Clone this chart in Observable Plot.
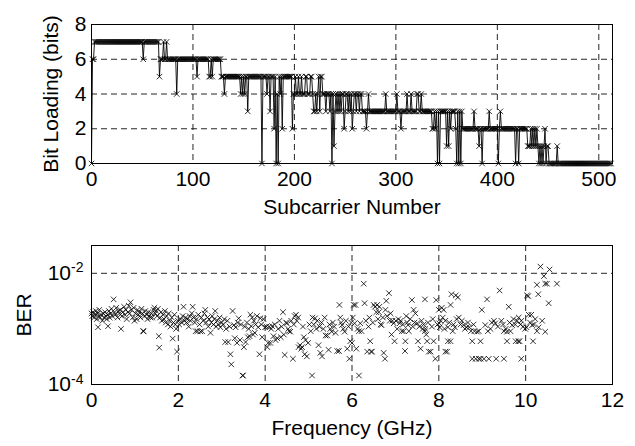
<!DOCTYPE html>
<html><head><meta charset="utf-8">
<script src="https://cdn.jsdelivr.net/npm/d3@7"></script>
<script src="https://cdn.jsdelivr.net/npm/@observablehq/plot@0.6"></script>
<style>
html,body{margin:0;padding:0;background:#fff;}
#chart{width:635px;height:446px;position:relative;background:#fff;}
#chart svg{display:block;}
</style></head><body><div id="chart"></div>
<script>
// ---------- DATA ----------
// Bit loading per subcarrier (index = subcarrier number 0..512), one digit per subcarrier
const bitLoadingRuns = [
  "066" + "77777777" + "77777777" + "77777777" + "77777777" + "77777777" + "77777777",      // 0-50
  "6" + "777777777777777" + "5" + "666" + "7" + "66" + "7",                               // 51-74
  "666666666" + "4" + "6666666666666666666" + "5" + "66666666666" + "5565" + "66666666",   // 75-127
  "555" + "4" + "555555555555555" + "45454553" + "5555555555555" + "0" + "5555" + "4" + "55" + "3" + "555" +
    "2" + "5" + "0" + "4" + "0" + "5" + "4" + "5" + "2" + "555555555" + "2",                  // 128-198
  "44" + "5" + "44" + "5" + "44" + "5" + "444" + "55" + "444" + "55" + "4" + "33" + "4" + "3" + "4" + "5" + "3" +
    "55" + "444" + "3" + "444" + "3" + "4" + "0" + "4" + "1",                                // 199-239
  "343434344" + "2" + "3443434" + "2" + "3443443443" + "333" + "2" + "3",                  // 240-272
  "4" + "3333333333333333" + "4" + "3333333333" + "4" + "333" + "2" + "33333" + "4" + "333" + "4" + "33333" +
    "44" + "33" + "4" + "3333333333",                                                      // 273-335
  "22323030" + "333333" + "131323333" + "2030303",                                          // 336-365
  "22222222222" + "3" + "2222" + "1" + "22" + "0" + "222222" + "3" + "22222222" + "0" + "2" + "3" +
    "22222222222222" + "0" + "22" + "0" + "22222222",                                       // 366-429
  "111212121210101012011" + "00000000" + "1",                                              // 430-459
  "0000000000" + "0000000000" + "0000000000" + "0000000000" + "0000000000" + "000"          // 460-512
];
const subcarrierTicks = [0, 100, 200, 300, 400, 500];
const bitTicks = [0, 2, 4, 6, 8];

// BER vs frequency [GHz, BER]
const berPoints = [
  [0.00,1.9e-3],[0.02,1.7e-3],[0.04,2.0e-3],[0.06,1.6e-3],[0.08,1.8e-3],[0.10,2.1e-3],[0.12,1.5e-3],[0.14,1.9e-3],
  [0.15,1.07e-3],[0.16,1.7e-3],[0.18,2.2e-3],[0.20,1.6e-3],[0.22,1.8e-3],[0.25,1.4e-3],[0.27,1.9e-3],[0.29,1.6e-3],
  [0.31,2.0e-3],[0.33,1.7e-3],[0.35,1.5e-3],[0.38,1.12e-3],[0.38,1.8e-3],[0.40,2.1e-3],[0.42,1.6e-3],[0.44,1.9e-3],
  [0.46,2.3e-3],[0.48,1.7e-3],[0.51,3.4e-3],[0.53,2.0e-3],[0.55,1.8e-3],[0.57,2.4e-3],[0.60,1.6e-3],[0.62,2.1e-3],
  [0.64,1.9e-3],[0.66,2.2e-3],[0.68,1.0e-3],[0.70,1.7e-3],[0.72,2.0e-3],[0.75,2.5e-3],[0.77,1.8e-3],[0.79,2.2e-3],
  [0.81,1.5e-3],[0.84,2.0e-3],[0.86,2.6e-3],[0.88,1.9e-3],[0.90,3.0e-3],[0.92,2.2e-3],[0.95,1.6e-3],[0.97,2.4e-3],
  [0.99,1.4e-3],[1.01,1.9e-3],[1.04,1.5e-3],[1.06,2.2e-3],[1.08,1.8e-3],[1.10,2.0e-3],[1.13,1.6e-3],[1.15,2.3e-3],
  [1.17,1.9e-3],[1.19,9.2e-4],[1.20,9.0e-4],[1.22,1.7e-3],[1.24,2.1e-3],[1.27,1.8e-3],[1.29,1.5e-3],[1.31,2.0e-3],
  [1.33,1.7e-3],[1.36,1.6e-3],[1.38,1.9e-3],[1.40,1.6e-3],[1.43,2.2e-3],[1.45,2.4e-3],[1.47,1.9e-3],[1.49,2.1e-3],
  [1.51,1.7e-3],[1.53,2.3e-3],[1.55,7.4e-4],[1.56,4.6e-4],[1.58,1.6e-3],[1.60,2.0e-3],[1.62,1.4e-3],[1.65,1.8e-3],
  [1.67,1.5e-3],[1.69,2.1e-3],[1.71,1.3e-3],[1.73,1.7e-3],[1.76,1.2e-3],[1.78,1.9e-3],[1.80,1.4e-3],[1.82,1.1e-3],
  [1.85,1.6e-3],[1.87,6.7e-4],[1.89,1.3e-3],[1.91,1.8e-3],[1.93,1.2e-3],[1.95,1.0e-3],[1.97,3.9e-4],[1.99,1.4e-3],
  [2.02,1.2e-3],[2.05,1.5e-3],[2.08,1.3e-3],[2.10,1.7e-3],[2.12,2.5e-3],[2.14,1.4e-3],[2.17,1.6e-3],[2.19,1.3e-3],
  [2.21,1.5e-3],[2.24,1.1e-3],[2.26,1.7e-3],[2.28,1.4e-3],[2.31,1.9e-3],[2.33,2.5e-3],[2.35,1.6e-3],[2.38,1.3e-3],
  [2.40,9.1e-4],[2.42,1.5e-3],[2.44,9.1e-4],[2.46,1.8e-3],[2.49,1.2e-3],[2.51,9.0e-4],[2.53,1.6e-3],[2.55,9.1e-4],
  [2.57,1.4e-3],[2.60,1.9e-3],[2.62,2.2e-3],[2.64,1.3e-3],[2.67,1.6e-3],[2.69,1.1e-3],[2.71,1.5e-3],[2.74,8.5e-4],
  [2.76,1.3e-3],[2.78,1.7e-3],[2.81,1.2e-3],[2.83,1.5e-3],[2.85,2.1e-3],[2.87,1.1e-3],[2.90,1.4e-3],[2.92,1.2e-3],
  [2.95,1.6e-3],[2.97,1.07e-3],[3.00,1.3e-3],
  [3.03,1.2e-3],[3.06,1.5e-3],[3.08,5.8e-4],[3.10,1.0e-3],[3.13,1.4e-3],[3.15,5.8e-4],[3.18,1.1e-3],[3.20,3.5e-4],
  [3.22,2.3e-4],[3.25,2.1e-3],[3.28,1.17e-3],[3.30,6.8e-4],[3.32,1.07e-3],[3.35,5.6e-4],[3.37,1.3e-3],[3.39,1.55e-3],
  [3.42,6.3e-4],[3.44,1.2e-3],[3.48,1.45e-4],[3.49,1.45e-4],[3.51,4.7e-4],[3.53,1.1e-3],[3.55,5.8e-4],[3.58,1.3e-3],
  [3.60,7.1e-4],[3.62,1.0e-3],[3.64,7.4e-4],[3.66,1.8e-3],[3.68,1.12e-3],[3.70,1.6e-3],[3.72,7.9e-4],[3.74,1.4e-3],
  [3.76,8.5e-4],[3.78,1.2e-3],[3.81,1.7e-3],[3.84,1.07e-3],[3.87,3.5e-4],[3.89,1.55e-3],[3.91,1.2e-3],[3.93,7.1e-4],
  [3.96,1.5e-3],[4.00,1.07e-3],[4.03,1.1e-3],[4.05,4.7e-4],[4.07,5.6e-4],[4.09,1.1e-3],[4.12,5.6e-4],[4.14,1.0e-3],
  [4.16,1.12e-3],[4.19,7.4e-4],[4.22,1.2e-3],[4.24,6.3e-4],[4.28,6.8e-4],[4.30,1.0e-3],[4.33,1.4e-3],[4.36,7.1e-4],
  [4.38,1.1e-3],[4.41,2.0e-3],[4.43,7.9e-4],[4.45,3.4e-4],[4.48,1.3e-3],[4.50,1.26e-3],[4.53,1.0e-3],[4.55,9.1e-4],
  [4.58,8.9e-4],[4.60,1.4e-3],[4.64,2.9e-4],[4.66,1.2e-3],[4.68,1.7e-3],[4.71,1.8e-3],[4.73,1.4e-3],[4.76,1.6e-3],
  [4.77,4.7e-4],[4.80,5.1e-4],[4.83,4.4e-4],[4.85,4.7e-4],[4.87,1.1e-3],[4.89,7.1e-4],[4.91,3.5e-4],[4.93,6.3e-4],
  [4.96,3.2e-4],[4.99,5.6e-4],[5.02,1.2e-3],[5.05,9.1e-4],[5.08,1.45e-4],[5.09,1.6e-3],[5.12,1.2e-3],[5.15,1.55e-3],
  [5.18,1.0e-3],[5.20,1.4e-3],[5.23,5.1e-4],[5.25,1.1e-3],[5.27,3.7e-4],[5.30,1.3e-3],[5.31,3.2e-4],[5.34,1.0e-3],
  [5.37,1.6e-3],[5.39,7.6e-4],[5.43,7.6e-4],[5.46,4.2e-4],[5.48,1.2e-3],[5.50,1.0e-3],[5.53,8.9e-4],[5.56,1.3e-3],
  [5.59,1.1e-3],[5.62,8.5e-4],[5.66,4.0e-4],[5.70,4.0e-4],[5.71,2.7e-3],[5.73,1.6e-3],[5.75,1.3e-3],[5.77,1.17e-3],
  [5.80,1.0e-3],[5.83,8.9e-4],[5.86,1.4e-3],[5.89,4.4e-4],[5.92,1.1e-3],[5.94,2.9e-4],[5.96,6.0e-4],[5.98,1.3e-3],
  [6.00,5.6e-4],
  [6.02,1.6e-3],[6.04,2.7e-3],[6.06,1.26e-3],[6.08,2.7e-3],[6.10,4.4e-4],[6.13,1.0e-3],[6.16,9.1e-4],[6.16,1.45e-4],
  [6.19,1.26e-3],[6.22,9.1e-4],[6.27,6.5e-3],[6.29,2.9e-3],[6.32,1.4e-3],[6.35,3.9e-4],[6.38,1.1e-3],[6.40,1.6e-3],
  [6.42,6.0e-4],[6.44,3.9e-4],[6.46,3.9e-4],[6.48,1.3e-3],[6.50,2.7e-3],[6.53,2.5e-3],[6.56,2.0e-3],[6.58,2.7e-3],
  [6.60,1.5e-3],[6.62,2.0e-3],[6.63,2.5e-3],[6.66,1.2e-3],[6.68,1.17e-3],[6.71,1.6e-3],[6.73,3.7e-4],[6.76,2.9e-4],
  [6.77,2.2e-3],[6.79,3.2e-3],[6.81,1.7e-3],[6.85,4.4e-3],[6.87,1.4e-3],[6.89,1.9e-3],[6.91,7.9e-4],[6.93,1.4e-3],
  [6.96,1.26e-3],[6.98,6.0e-4],[7.01,1.4e-3],[7.04,1.0e-3],[7.07,1.5e-3],[7.10,1.26e-3],[7.12,1.4e-3],[7.15,9.1e-4],
  [7.17,1.2e-3],[7.19,9.1e-4],[7.22,4.0e-4],[7.23,6.0e-4],[7.25,1.7e-3],[7.27,1.3e-3],[7.29,1.17e-3],[7.31,9.1e-4],
  [7.34,1.5e-3],[7.38,3.3e-3],[7.40,1.1e-3],[7.42,2.2e-3],[7.44,1.3e-3],[7.46,1.9e-3],[7.50,1.26e-3],[7.52,6.0e-4],
  [7.55,1.1e-3],[7.58,4.4e-4],[7.60,1.4e-3],[7.63,1.0e-3],[7.65,1.2e-3],[7.68,3.4e-3],[7.68,9.1e-4],[7.69,1.0e-3],
  [7.71,7.9e-4],[7.73,6.0e-4],[7.75,1.3e-3],[7.77,3.9e-4],[7.81,3.9e-4],[7.84,1.1e-3],[7.86,1.5e-3],[7.88,6.0e-4],
  [7.92,2.9e-4],[7.94,3.3e-3],[7.97,1.2e-3],[8.00,2.2e-3],[8.01,1.26e-3],[8.02,1.07e-3],[8.04,1.4e-3],[8.07,2.4e-3],
  [8.09,1.6e-3],[8.11,2.2e-3],[8.13,1.0e-3],[8.15,1.4e-3],[8.15,3.9e-4],[8.19,3.9e-4],[8.21,6.0e-4],[8.21,1.07e-3],
  [8.24,1.3e-3],[8.27,6.0e-4],[8.27,2.7e-3],[8.29,4.2e-3],[8.32,9.1e-4],[8.34,1.2e-3],[8.37,1.07e-3],[8.39,4.0e-3],
  [8.41,1.5e-3],[8.44,3.7e-3],[8.46,1.6e-3],[8.50,1.2e-3],[8.53,1.4e-3],[8.57,1.17e-3],[8.60,1.0e-3],[8.64,1.07e-3],
  [8.67,1.3e-3],[8.70,1.07e-3],[8.74,9.1e-4],[8.77,6.0e-4],[8.77,2.9e-4],[8.80,1.2e-3],[8.82,9.1e-4],[8.85,2.9e-4],
  [8.88,8.9e-4],[8.92,2.9e-4],[8.92,9.1e-4],[8.96,6.0e-4],[8.96,2.9e-4],[8.99,2.2e-3],
  [9.04,2.9e-4],[9.07,1.17e-3],[9.11,3.4e-3],[9.13,9.1e-4],[9.15,2.9e-4],[9.19,1.0e-3],[9.22,1.3e-3],[9.27,1.4e-3],
  [9.30,1.26e-3],[9.32,2.9e-4],[9.36,1.1e-3],[9.40,4.9e-3],[9.44,1.4e-3],[9.48,1.2e-3],[9.50,9.1e-4],[9.50,2.9e-4],
  [9.54,1.0e-3],[9.57,8.9e-4],[9.57,6.0e-4],[9.61,2.5e-3],[9.63,1.3e-3],[9.65,9.1e-4],[9.69,1.17e-3],[9.72,1.5e-3],
  [9.76,1.2e-3],[9.77,6.0e-4],[9.80,1.4e-3],[9.83,6.0e-4],[9.84,1.6e-3],[9.86,6.0e-4],[9.88,1.2e-3],[9.90,1.4e-3],
  [9.90,2.9e-4],[9.94,1.1e-3],[9.99,1.0e-3],[10.02,1.07e-3],[10.03,4.0e-3],[10.06,3.9e-3],[10.07,1.8e-3],[10.10,1.3e-3],
  [10.13,1.8e-3],[10.15,1.17e-3],[10.17,6.0e-4],[10.19,1.2e-3],[10.22,1.5e-3],[10.26,6.2e-3],[10.26,9.1e-4],[10.29,4.2e-3],
  [10.30,1.07e-3],[10.34,1.32e-2],[10.38,1.4e-3],[10.42,8.9e-3],[10.45,6.5e-3],[10.45,8.9e-4],[10.49,6.5e-3],[10.53,2.9e-3],
  [10.55,1.17e-2],[10.72,6.5e-3]
];
const freqTicks = [0, 2, 4, 6, 8, 10, 12];
const berTicks = [1e-4, 1e-2];
const berDomain = [1e-4, 3.162e-2];

// ---------- BUILD ----------
const bitString = bitLoadingRuns.join("");
if (bitString.length !== 513) throw new Error("bit length " + bitString.length);
const bitData = Array.from(bitString, (c, i) => ({n: i, bits: +c}));
const berData = berPoints.map(([f, b]) => ({f, b}));

const font = "'Liberation Sans', Arial, sans-serif";
const baseStyle = {fontFamily: font, fontSize: "21px", background: "#fff", color: "#000", overflow: "visible"};
const gridStyle = {stroke: "#000", strokeOpacity: 0.85, strokeDasharray: "6,4", strokeWidth: 1};

const topPlot = Plot.plot({
  width: 635, height: 220,
  marginLeft: 91, marginRight: 23, marginTop: 24, marginBottom: 57,
  style: baseStyle,
  x: {domain: [0, 513.5]},
  y: {domain: [0, 8]},
  marks: [
    Plot.gridX(subcarrierTicks, gridStyle),
    Plot.gridY(bitTicks, gridStyle),
    Plot.line(bitData, {x: "n", y: "bits", stroke: "#000", strokeWidth: 0.9}),
    Plot.dot(bitData, {x: "n", y: "bits", symbol: "times", r: 2.6, stroke: "#000", strokeWidth: 0.8}),
    Plot.axisX(subcarrierTicks, {tickSize: 0, tickPadding: 8, label: "Subcarrier Number", labelAnchor: "center", labelArrow: "none", labelOffset: 50}),
    Plot.axisY(bitTicks, {tickSize: 0, tickPadding: 5, label: "Bit Loading (bits)", labelAnchor: "center", labelArrow: "none", labelOffset: 48}),
    Plot.frame({stroke: "#000", strokeWidth: 1})
  ]
});

const bottomPlot = Plot.plot({
  width: 635, height: 226,
  marginLeft: 91, marginRight: 23, marginTop: 25, marginBottom: 62,
  style: baseStyle,
  x: {domain: [0, 12]},
  y: {type: "log", domain: berDomain},
  marks: [
    Plot.gridX(freqTicks, gridStyle),
    Plot.gridY(berTicks, gridStyle),
    Plot.dot(berData, {x: "f", y: "b", symbol: "times", r: 2.6, stroke: "#000", strokeWidth: 0.8}),
    Plot.axisX(freqTicks, {tickSize: 0, tickPadding: 8, label: "Frequency (GHz)", labelAnchor: "center", labelArrow: "none", labelOffset: 50}),
    Plot.axisY(berTicks, {tickSize: 0, tickPadding: 8, tickFormat: d => "10^" + Math.round(Math.log10(d)), label: "BER", labelAnchor: "center", labelArrow: "none", labelOffset: 75}),
    Plot.frame({stroke: "#000", strokeWidth: 1})
  ]
});

// superscript exponents on log tick labels
d3.select(bottomPlot).selectAll('g[aria-label="y-axis tick label"] text').each(function() {
  const t = this.textContent;
  const parts = t.split("^");
  if (parts.length !== 2) return;
  const sel = d3.select(this);
  sel.text(null);
  sel.append("tspan").text(parts[0]);
  sel.append("tspan").attr("dy", "-0.55em").attr("font-size", "14px").text(parts[1].replace("\u2212", "-"));
});

const chart = document.getElementById("chart");
chart.appendChild(topPlot);
chart.appendChild(bottomPlot);
</script></body></html>
